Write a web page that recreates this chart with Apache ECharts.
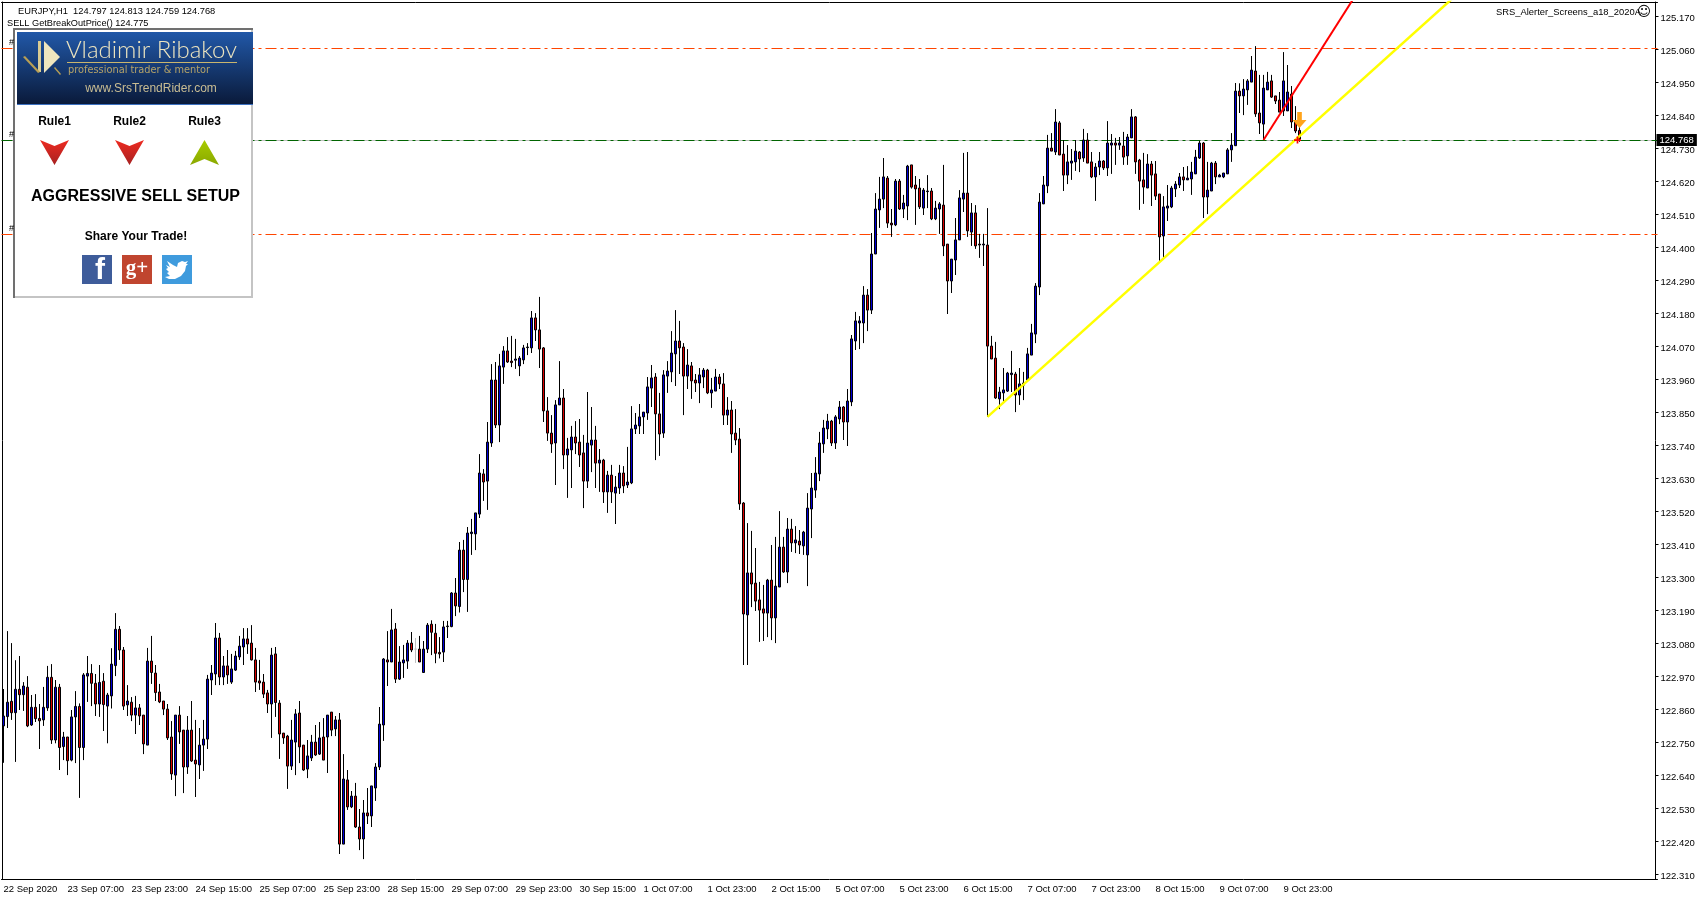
<!DOCTYPE html>
<html><head><meta charset="utf-8">
<style>html,body{margin:0;padding:0;background:#fff}#c{width:1700px;height:900px}</style>
<script src="https://cdn.jsdelivr.net/npm/echarts@6/dist/echarts.min.js"></script>
</head><body><div id="c"></div>
<script>
// each row: open, close, low, high
const barsSep22to24 = [
[122.812,122.845,122.689,122.935],[122.843,122.891,122.805,123.128],[122.894,122.856,122.832,123.088],[122.856,122.934,122.692,123.031],
[122.934,122.916,122.865,123.045],[122.916,122.945,122.862,122.958],[122.941,122.812,122.808,122.978],[122.815,122.874,122.812,122.915],
[122.874,122.836,122.825,122.918],[122.837,122.829,122.735,122.885],[122.832,122.874,122.812,122.942],[122.872,122.974,122.862,123.012],
[122.974,122.765,122.752,123.018],[122.765,122.941,122.754,122.965],[122.941,122.740,122.665,122.952],[122.743,122.775,122.698,122.792],
[122.775,122.696,122.648,122.775],[122.698,122.842,122.694,122.865],[122.842,122.877,122.688,122.928],[122.877,122.740,122.572,122.887],
[122.740,122.982,122.698,122.988],[122.978,122.987,122.892,123.045],[122.987,122.954,122.878,123.018],[122.954,122.885,122.845,122.985],
[122.885,122.957,122.842,123.015],[122.961,122.883,122.795,122.988],[122.878,122.915,122.754,122.922],[122.912,123.018,122.870,123.071],
[123.013,123.134,122.978,123.188],[123.134,123.065,123.032,123.145],[123.065,122.878,122.865,123.075],[122.882,122.895,122.845,122.948],
[122.891,122.848,122.828,122.908],[122.848,122.872,122.785,122.912],[122.872,122.845,122.815,122.885],[122.848,122.752,122.718,122.848],
[122.748,123.028,122.748,123.072],[123.028,122.990,122.952,123.112],[122.988,122.923,122.895,123.015],[122.925,122.892,122.888,122.952],
[122.895,122.868,122.848,122.895],[122.868,122.772,122.765,122.885],[122.775,122.652,122.632,122.828],[122.648,122.848,122.578,122.848],
[122.848,122.792,122.752,122.878],[122.798,122.675,122.588,122.798],[122.675,122.798,122.652,122.845],[122.798,122.695,122.692,122.895],
[122.698,122.685,122.575,122.832],[122.682,122.748,122.635,122.805],[122.748,122.768,122.662,122.832],[122.768,122.968,122.735,122.982],
[122.965,122.988,122.915,123.015],[122.985,123.105,122.948,123.155],[123.105,122.975,122.948,123.122],[122.975,123.012,122.948,123.045],
[123.012,122.982,122.952,123.065],[122.958,123.002,122.952,123.052],[122.998,123.045,122.995,123.062],[123.042,123.078,123.032,123.112],
[123.075,123.102,123.015,123.138],[123.102,123.085,123.052,123.138],[123.088,123.032,123.030,123.148],[123.032,122.958,122.925,123.072]
];
const barsSep25to28 = [
[122.962,122.955,122.932,123.032],[122.958,122.918,122.905,122.985],[122.922,122.885,122.855,122.932],[122.885,123.048,122.772,123.072],
[123.052,122.890,122.842,123.075],[122.888,122.785,122.702,122.898],[122.788,122.772,122.752,122.788],[122.778,122.678,122.602,122.782],
[122.678,122.765,122.665,122.832],[122.758,122.852,122.648,122.868],[122.855,122.742,122.688,122.895],[122.748,122.665,122.662,122.748],
[122.668,122.712,122.638,122.765],[122.705,122.758,122.695,122.782],[122.758,122.715,122.712,122.815],[122.718,122.772,122.715,122.825],
[122.775,122.698,122.698,122.838],[122.775,122.848,122.655,122.848],[122.858,122.798,122.778,122.858],[122.802,122.832,122.778,122.845],
[122.832,122.418,122.385,122.855],[122.418,122.635,122.418,122.718],[122.632,122.542,122.532,122.665],[122.542,122.578,122.538,122.595],
[122.578,122.475,122.472,122.622],[122.475,122.435,122.398,122.535],[122.435,122.522,122.368,122.565],[122.522,122.512,122.485,122.605],
[122.512,122.612,122.475,122.612],[122.605,122.675,122.562,122.688],[122.675,122.818,122.665,122.875],[122.815,123.035,122.762,123.038],
[123.032,123.025,122.945,123.128],[123.025,123.132,123.025,123.202],[123.135,122.968,122.955,123.155],[122.968,123.025,122.965,123.078],
[123.022,123.032,122.972,123.082],[123.028,123.088,123.002,123.098],[123.088,123.065,123.058,123.125],[123.068,123.068,123.022,123.105],
[123.068,123.025,123.025,123.112],[122.990,123.068,122.990,123.095],[123.068,123.148,123.055,123.155]
];
const barsSep28to30 = [
[123.151,123.124,123.048,123.164],[123.121,123.054,123.021,123.152],[123.057,123.052,123.037,123.108],[123.058,123.142,123.025,123.162],
[123.143,123.145,123.105,123.162],[123.143,123.255,123.141,123.258],[123.255,123.212,123.178,123.305],[123.210,123.398,123.190,123.425],
[123.398,123.300,123.258,123.432],[123.300,123.455,123.192,123.475],[123.453,123.458,123.382,123.502],[123.452,123.522,123.398,123.522],
[123.518,123.655,123.505,123.718],[123.652,123.625,123.562,123.668],[123.628,123.758,123.532,123.825],[123.755,123.965,123.742,124.018],
[123.965,123.815,123.805,124.025],[123.815,124.012,123.758,124.052],[124.008,124.062,123.952,124.078],[124.062,124.025,124.022,124.108],
[124.028,124.023,124.008,124.112],[124.031,124.035,124.002,124.102],[124.012,124.038,123.978,124.045],[124.032,124.072,124.018,124.082],
[124.073,124.075,124.048,124.088],[124.072,124.172,124.055,124.195],[124.172,124.132,124.095,124.188],[124.132,124.068,124.005,124.242],
[124.072,123.862,123.825,124.075],[123.862,123.788,123.762,123.908],[123.788,123.752,123.722,123.848],[123.755,123.882,123.615,123.898],
[123.882,123.905,123.882,124.028],[123.905,123.715,123.668,123.935],[123.715,123.735,123.572,123.772],[123.732,123.775,123.605,123.812],
[123.775,123.755,123.718,123.828],[123.758,123.715,123.675,123.835],[123.722,123.628,123.538,123.782],[123.628,123.755,123.605,123.925],
[123.748,123.765,123.658,123.875],[123.765,123.688,123.605,123.812],[123.688,123.698,123.592,123.735],[123.698,123.592,123.555,123.702],
[123.592,123.648,123.522,123.662],[123.648,123.592,123.555,123.682],[123.588,123.608,123.485,123.645],[123.605,123.655,123.585,123.682],
[123.655,123.612,123.588,123.678],[123.615,123.625,123.605,123.742]
];
const barsOct1to2 = [
[123.622,123.802,123.618,123.878],[123.802,123.815,123.785,123.855],[123.812,123.842,123.785,123.885],[123.842,123.858,123.785,123.858],
[123.855,123.942,123.832,123.975],[123.938,123.972,123.875,124.015],[123.975,123.852,123.698,123.988],[123.852,123.785,123.712,123.922],
[123.788,123.982,123.772,123.998],[123.978,123.995,123.922,124.028],[123.992,124.055,123.958,124.128],[124.052,124.095,123.945,124.198],
[124.095,124.072,123.985,124.162],[124.075,123.978,123.848,124.088],[123.978,124.015,123.935,124.068],[124.012,123.962,123.902,124.025],
[123.965,123.955,123.925,123.985],[123.955,123.982,123.888,124.005],[123.975,123.998,123.938,124.005],[123.998,123.922,123.918,124.002],
[123.922,123.932,123.872,123.972],[123.928,123.975,123.928,124.002],[123.975,123.952,123.935,123.985],[123.952,123.848,123.815,123.988],
[123.848,123.865,123.815,123.908],[123.865,123.785,123.722,123.895],[123.788,123.765,123.748,123.868],[123.768,123.552,123.532,123.805],
[123.555,123.185,123.015,123.558],[123.182,123.322,123.015,123.488],[123.322,123.285,123.208,123.462],[123.288,123.228,123.195,123.405],
[123.232,123.198,123.092,123.292],[123.202,123.188,123.095,123.282],[123.188,123.298,123.108,123.302],[123.298,123.172,123.098,123.415],
[123.172,123.278,123.088,123.442],[123.275,123.408,123.275,123.528],[123.408,123.325,123.322,123.442],[123.325,123.468,123.288,123.505],
[123.468,123.422,123.392,123.502],[123.422,123.432,123.388,123.478],[123.428,123.415,123.385,123.465],[123.412,123.458,123.382,123.462]
];
const barsOct2to6 = [
[123.382,123.538,123.278,123.588],[123.535,123.605,123.438,123.655],[123.598,123.655,123.572,123.708],[123.652,123.755,123.628,123.792],
[123.752,123.805,123.722,123.832],[123.802,123.828,123.768,123.852],[123.828,123.755,123.745,123.832],[123.755,123.842,123.735,123.848],
[123.835,123.875,123.818,123.895],[123.875,123.825,123.765,123.878],[123.825,123.895,123.745,123.935],[123.892,124.102,123.878,124.115],
[124.095,124.162,124.065,124.192],[124.155,124.162,124.068,124.178],[124.155,124.248,124.088,124.278],[124.248,124.198,124.128,124.268],
[124.198,124.385,124.185,124.455],[124.385,124.535,124.385,124.588],[124.532,124.568,124.472,124.642],[124.568,124.642,124.538,124.705],
[124.638,124.488,124.472,124.645],[124.488,124.482,124.442,124.535],[124.482,124.628,124.478,124.635],[124.628,124.535,124.532,124.635],
[124.535,124.555,124.505,124.582],[124.545,124.678,124.498,124.682],[124.682,124.608,124.603,124.682],[124.615,124.602,124.482,124.645],
[124.605,124.542,124.535,124.635],[124.538,124.598,124.515,124.605],[124.593,124.595,124.538,124.648],[124.595,124.502,124.498,124.605],
[124.502,124.538,124.498,124.562],[124.535,124.552,124.452,124.558],[124.548,124.412,124.378,124.682],[124.418,124.295,124.185,124.418],
[124.295,124.368,124.255,124.368],[124.365,124.432,124.315,124.505],[124.432,124.572,124.432,124.598],[124.568,124.588,124.525,124.722],
[124.588,124.462,124.442,124.725],[124.458,124.522,124.412,124.555],[124.522,124.412,124.402,124.548],[124.418,124.415,124.372,124.452],
[124.415,124.418,124.345,124.452]
];
const barsOct6to8 = [
[124.415,124.078,123.842,124.538],[124.078,124.035,124.035,124.112],[124.038,123.905,123.902,124.092],[123.902,123.925,123.868,123.942],
[123.922,123.932,123.895,124.005],[123.928,123.988,123.925,123.992],[123.983,123.988,123.925,124.062],[123.985,123.915,123.858,123.992],
[123.915,123.952,123.882,124.005],[123.948,123.955,123.898,123.992],[123.965,124.052,123.965,124.072],[124.048,124.122,124.048,124.152],
[124.118,124.278,124.088,124.288],[124.275,124.558,124.248,124.588],[124.552,124.615,124.552,124.645],[124.612,124.738,124.588,124.782],
[124.738,124.728,124.728,124.788],[124.725,124.825,124.715,124.868],[124.822,124.715,124.715,124.828],[124.718,124.648,124.595,124.765],
[124.648,124.692,124.618,124.748],[124.688,124.695,124.632,124.735],[124.692,124.728,124.662,124.765],[124.725,124.702,124.658,124.728],
[124.705,124.765,124.692,124.802],[124.765,124.688,124.688,124.788],[124.692,124.642,124.638,124.725],[124.642,124.675,124.562,124.688],
[124.675,124.695,124.648,124.725],[124.695,124.672,124.665,124.698],[124.672,124.755,124.645,124.828],[124.748,124.755,124.652,124.785],
[124.755,124.748,124.682,124.772],[124.748,124.755,124.732,124.775],[124.745,124.708,124.682,124.792],[124.712,124.775,124.682,124.785],
[124.772,124.842,124.772,124.868],[124.842,124.692,124.652,124.845],[124.698,124.628,124.532,124.702]
];
const barsOct8to9 = [
[124.632,124.608,124.552,124.722],[124.605,124.685,124.605,124.718],[124.685,124.648,124.545,124.695],[124.652,124.578,124.565,124.695],
[124.585,124.442,124.362,124.585],[124.445,124.542,124.368,124.578],[124.538,124.545,124.495,124.615],[124.542,124.605,124.538,124.612],
[124.602,124.618,124.575,124.628],[124.615,124.642,124.605,124.655],[124.642,124.632,124.595,124.675],[124.632,124.638,124.632,124.678],
[124.635,124.658,124.582,124.692],[124.652,124.708,124.652,124.732],[124.705,124.755,124.702,124.762],[124.755,124.575,124.505,124.758],
[124.575,124.598,124.518,124.692],[124.595,124.688,124.595,124.692],[124.688,124.642,124.618,124.695],[124.642,124.648,124.642,124.652],
[124.642,124.655,124.638,124.655],[124.652,124.732,124.652,124.738],[124.732,124.748,124.692,124.788],[124.746,124.928,124.746,124.955],
[124.928,124.912,124.855,124.954],[124.912,124.935,124.848,124.968],[124.932,124.962,124.882,124.968],[124.958,124.998,124.958,125.045],
[124.995,124.852,124.842,125.078],[124.855,124.822,124.785,124.982],[124.818,124.938,124.765,124.982],[124.932,124.958,124.932,124.992],
[124.962,124.908,124.905,124.982],[124.912,124.895,124.885,124.912],[124.898,124.858,124.858,124.925],[124.862,124.962,124.845,125.058],
[124.862,124.925,124.862,125.015],[124.918,124.825,124.805,124.945],[124.828,124.795,124.788,124.878],[124.797,124.768,124.759,124.813]
];
const dateLabels = ['22 Sep 2020','23 Sep 07:00','23 Sep 23:00','24 Sep 15:00','25 Sep 07:00','25 Sep 23:00','28 Sep 15:00','29 Sep 07:00','29 Sep 23:00','30 Sep 15:00','1 Oct 07:00','1 Oct 23:00','2 Oct 15:00','5 Oct 07:00','5 Oct 23:00','6 Oct 15:00','7 Oct 07:00','7 Oct 23:00','8 Oct 15:00','9 Oct 07:00','9 Oct 23:00'];
const priceTicks = [122.31,122.42,122.53,122.64,122.75,122.86,122.97,123.08,123.19,123.30,123.41,123.52,123.63,123.74,123.85,123.96,124.07,124.18,124.29,124.40,124.51,124.62,124.73,124.84,124.95,125.06,125.17];
const upperLevel = 125.071, lowerLevel = 124.450, currentLevel = 124.765, lastClose = 124.768;
const yellowTrend = [[246,123.842],[362,125.234]];
const redTrend = [[315,124.765],[338,125.247]];
const arrowMark = [[324,124.832]];
const crossMark = [[324,124.765]];
const labelStep = 16, slotCount = 414;

const bars = [].concat(barsSep22to24,barsSep25to28,barsSep28to30,barsOct1to2,barsOct2to6,barsOct6to8,barsOct8to9);
const categories = [];
for (let i=0;i<slotCount;i++) categories.push(i%labelStep===0 && dateLabels[i/labelStep] ? dateLabels[i/labelStep] : '');
const font = '"Liberation Sans"';
const isLabel = (i)=> categories[i] !== '';
const dash = [11,4,3,4];

function T(x,y,text,o){return {type:'text',x,y,z:100,silent:true,style:Object.assign({text,fill:'#000',font:'10px '+font,textAlign:'left',textVerticalAlign:'middle'},o||{})};}
function R(x,y,w,h,fill,extra){return Object.assign({type:'rect',z:99,silent:true,shape:{x,y,width:w,height:h},style:{fill}},extra||{});}
function P(points,fill,z){return {type:'polygon',z:z||100,silent:true,shape:{points},style:{fill}};}
function grad(a,b){return {type:'linear',x:0,y:0,x2:0,y2:1,colorStops:[{offset:0,color:a},{offset:1,color:b}]};}

const graphics = [
  T(18,11,'EURJPY,H1  124.797 124.813 124.759 124.768',{font:'9.3px '+font}),
  T(7,23.5,'SELL GetBreakOutPrice() 124.775',{font:'9.2px '+font}),
  T(9,43,'#',{font:'9px '+font}),T(9,135,'#',{font:'9px '+font}),T(9,229,'#',{font:'9px '+font}),
  T(1496,12,'SRS_Alerter_Screens_a18_2020A',{font:'9.4px '+font}),
  T(1644,12,'☺',{font:'14px "DejaVu Sans"',textAlign:'center'}),
  R(13,28,240,270,'#fff'),
  R(13,28,240,2,'#707070'),R(13,28,2,270,'#707070'),R(251,30,2,268,'#C4C4C4'),R(15,296,238,2,'#C4C4C4'),
  R(17,32,236,72,grad('#2158A8','#0A1A3A')),R(17,104,236,1,'#3B70C0'),
  // logo
  P([[44,41],[60,57],[44,73]],'#EFE6BE'),
  P([[38,41],[41,41],[41,72],[38,72]],'#D9CB92'),
  P([[23,57],[25,56],[40,72],[38,73]],'#B89F55'),
  P([[54,68],[55,67],[61,74],[60,75]],'#B89F55'),
  T(66,50,'Vladimir Ribakov',{font:'300 24px Lato',fill:'#EDE5C0'}),
  R(67,62,170,1,'#C9B56E',{z:100}),
  T(68,70,'professional trader & mentor',{font:'9.8px "DejaVu Sans"',fill:'#B5A368'}),
  T(151,89,'www.SrsTrendRider.com',{font:'12px '+font,fill:'#C9BD93',textAlign:'center'}),
  T(54.5,122,'Rule1',{font:'bold 12px '+font,textAlign:'center'}),
  T(129.5,122,'Rule2',{font:'bold 12px '+font,textAlign:'center'}),
  T(204.5,122,'Rule3',{font:'bold 12px '+font,textAlign:'center'}),
  P([[40,140],[54.5,146],[69,140],[54.5,165]],grad('#EE2A20','#A62222')),
  P([[115,140],[129.5,146],[144,140],[129.5,165]],grad('#EE2A20','#A62222')),
  P([[204.5,140],[219,165],[204.5,159],[190,165]],grad('#A8CC00','#8AA800')),
  T(135.5,197,'AGGRESSIVE SELL SETUP',{font:'bold 16px '+font,textAlign:'center'}),
  T(136,236.5,'Share Your Trade!',{font:'bold 12px '+font,textAlign:'center'}),
  R(82,255,30,29,'#3E5C9A',{z:100}),
  T(100,271,'f',{font:'bold 30px '+font,fill:'#fff',textAlign:'center'}),
  R(122,255,30,29,'#C0452F',{z:100}),
  T(137,269,'g+',{font:'bold 21px "Liberation Serif"',fill:'#fff',textAlign:'center'}),
  R(162,255,30,29,'#3F9BDD',{z:100}),
  P([[166,265],[170,267],[167,261],[173,265],[177,267],[178,263],[182,261],[185,262],[188,261],[186,264],[188,264],[186,266],[185,271],[181,276],[175,279],[169,279],[165,277],[170,276],[167,273],[169,272],[166,269],[168,268]],'#fff',101)
];

const chart = echarts.init(document.getElementById('c'),null,{renderer:'canvas'});
chart.setOption({
  animation:false,
  backgroundColor:'#fff',
  textStyle:{fontFamily:font},
  grid:{left:1.5,top:2,width:1656,height:877,containLabel:false},
  xAxis:[
    {type:'category',data:categories,boundaryGap:true,position:'bottom',
     axisLine:{lineStyle:{color:'#000',width:1}},
     axisTick:{alignWithLabel:true,length:3,lineStyle:{color:'#000'},interval:(i)=>isLabel(i)},
     axisLabel:{interval:(i)=>isLabel(i),align:'left',color:'#000',fontSize:9.5,fontFamily:font,margin:5,hideOverlap:false,padding:[0,2,0,0]},
     splitLine:{show:false}},
    {type:'category',data:categories,position:'top',axisLine:{lineStyle:{color:'#000',width:1}},axisTick:{show:false},axisLabel:{show:false}}
  ],
  yAxis:[
    {type:'value',position:'right',offset:-2,min:122.3017,max:125.225,scale:true,
     axisLine:{show:true,onZero:false,lineStyle:{color:'#000',width:1}},
     axisTick:{show:true,length:3,lineStyle:{color:'#000'},customValues:priceTicks.map(v=>v+0.006)},
     axisLabel:{customValues:priceTicks,formatter:(v)=>v.toFixed(3),color:'#000',fontSize:9.5,fontFamily:font,margin:5,align:'left',showMinLabel:true,showMaxLabel:true},
     splitLine:{show:false}},
    {type:'value',position:'left',offset:-1,min:122.3017,max:125.225,axisLine:{show:true,onZero:false,lineStyle:{color:'#000',width:1}},axisTick:{show:false},axisLabel:{show:false},splitLine:{show:false}}
  ],
  graphic:{elements:graphics},
  series:[
    {type:'candlestick',data:bars,barWidth:2,z:3,
     itemStyle:{color:'#0000D8',color0:'#D80000',borderColor:'#000',borderColor0:'#000',borderColorDoji:'#BDBDBD',borderWidth:1},
     markLine:{silent:true,symbol:'none',animation:false,z:2,precision:3,
       label:{show:false},
       data:[
        {yAxis:upperLevel,lineStyle:{color:'#FF4500',width:1,type:dash}},
        {yAxis:lowerLevel,lineStyle:{color:'#FF4500',width:1,type:dash}},
        {yAxis:currentLevel,lineStyle:{color:'#C0C0C0',width:1,type:'solid'},
         label:{show:true,position:'end',distance:-1,formatter:()=>lastClose.toFixed(3),color:'#fff',backgroundColor:'#000',fontSize:9.5,fontFamily:font,padding:[1,3,1,3]}},
        {yAxis:currentLevel-0.002,lineStyle:{color:'#006400',width:1,type:dash}}
       ]}},
    {type:'line',name:'yellow',data:yellowTrend,showSymbol:false,symbol:'none',z:5,clip:true,lineStyle:{color:'#FFFF00',width:2.5},itemStyle:{color:'#FFFF00'}},
    {type:'line',name:'red',data:redTrend,showSymbol:false,symbol:'none',z:5,clip:true,lineStyle:{color:'#FF0000',width:2},itemStyle:{color:'#FF0000'}},
    {type:'scatter',data:arrowMark,z:6,symbol:'path://M4,0 L8,0 L8,7 L12,7 L6,14 L0,7 L4,7 Z',symbolSize:[14,16],itemStyle:{color:'#FFA31A',opacity:1}},
    {type:'scatter',data:crossMark,z:6,symbol:'path://M3,0H5V3H8V5H5V8H3V5H0V3H3Z',symbolSize:7,symbolOffset:[-2,0],itemStyle:{color:'#FF0000',opacity:1}}
  ]
});
</script></body></html>
